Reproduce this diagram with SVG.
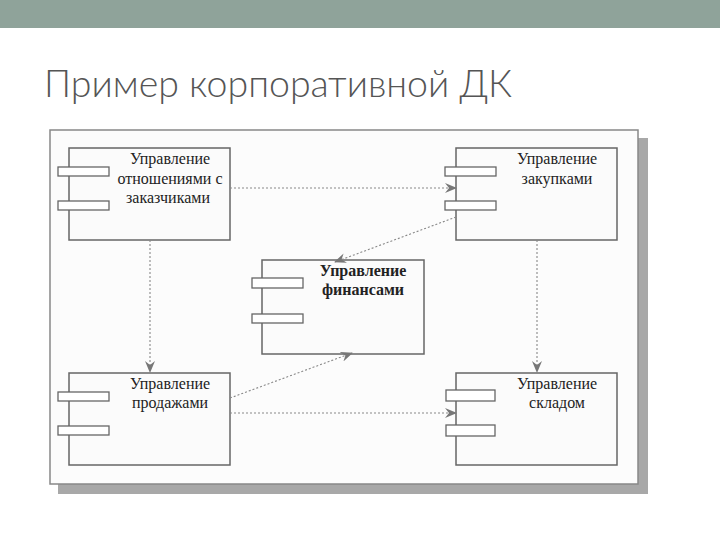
<svg xmlns="http://www.w3.org/2000/svg" width="720" height="540" viewBox="0 0 720 540">
<style>
.box{fill:#fbfbfb;stroke:#666;stroke-width:1.5}
.tab{fill:#fff;stroke:#666;stroke-width:1.3}
.lbl{font-family:"Liberation Serif",serif;font-size:16px;fill:#222;text-anchor:middle}
.con{stroke:#888;stroke-width:1.1;stroke-dasharray:2,2;fill:none}
</style>
<defs>
<marker id="ah" viewBox="0 0 12 10" refX="11" refY="5" markerWidth="12" markerHeight="10" markerUnits="userSpaceOnUse" orient="auto">
<path d="M0,0 L12,5 L0,10 L4,5 Z" fill="#777"/>
</marker>
</defs>
<rect width="720" height="540" fill="#fff"/>
<rect width="720" height="28" fill="#8fa39a"/>
<text x="44" y="97" font-family="Lato,'Liberation Sans',sans-serif" font-size="37.5" font-weight="300" fill="#555">Пример корпоративной ДК</text>
<rect x="58" y="138" width="590" height="356" fill="#a8a8a8"/>
<rect x="50" y="130" width="588" height="354" fill="#fcfcfc" stroke="#888" stroke-width="1.5"/>
<g id="n1"><rect class="box" x="69" y="148" width="161" height="92"/><rect class="tab" x="58" y="167" width="51" height="9"/><rect class="tab" x="58" y="201" width="51" height="9"/>
<text class="lbl" x="170" y="164">Управление</text><text class="lbl" x="170" y="184">отношениями с</text><text class="lbl" x="168" y="203">заказчиками</text></g>
<g id="n2"><rect class="box" x="456" y="148" width="161" height="92"/><rect class="tab" x="445" y="167" width="51" height="9"/><rect class="tab" x="445" y="201" width="51" height="9"/>
<text class="lbl" x="557" y="164">Управление</text><text class="lbl" x="557" y="184">закупками</text></g>
<g id="n3"><rect class="box" x="262" y="260" width="162" height="94"/><rect class="tab" x="252" y="278" width="51" height="10"/><rect class="tab" x="252" y="314" width="51" height="9"/>
<text class="lbl" x="363" y="276" font-weight="bold">Управление</text><text class="lbl" x="363" y="295" font-weight="bold">финансами</text></g>
<g id="n4"><rect class="box" x="69" y="373" width="161" height="92"/><rect class="tab" x="58" y="392" width="51" height="9"/><rect class="tab" x="58" y="426" width="51" height="9"/>
<text class="lbl" x="170" y="389">Управление</text><text class="lbl" x="170" y="408">продажами</text></g>
<g id="n5"><rect class="box" x="456" y="373" width="161" height="92"/><rect class="tab" x="446" y="390" width="49" height="11"/><rect class="tab" x="446" y="425" width="49" height="11"/>
<text class="lbl" x="557" y="389">Управление</text><text class="lbl" x="557" y="408">складом</text></g>
<g id="connectors">
<path class="con" d="M230,188 L456,188" marker-end="url(#ah)"/>
<path class="con" d="M456,217 L335,262" marker-end="url(#ah)"/>
<path class="con" d="M230,398 L352,353" marker-end="url(#ah)"/>
<path class="con" d="M230,413 L456,413" marker-end="url(#ah)"/>
<path class="con" d="M150,240 L150,372" marker-end="url(#ah)"/>
<path class="con" d="M537,240 L537,372" marker-end="url(#ah)"/>
</g>
</svg>
